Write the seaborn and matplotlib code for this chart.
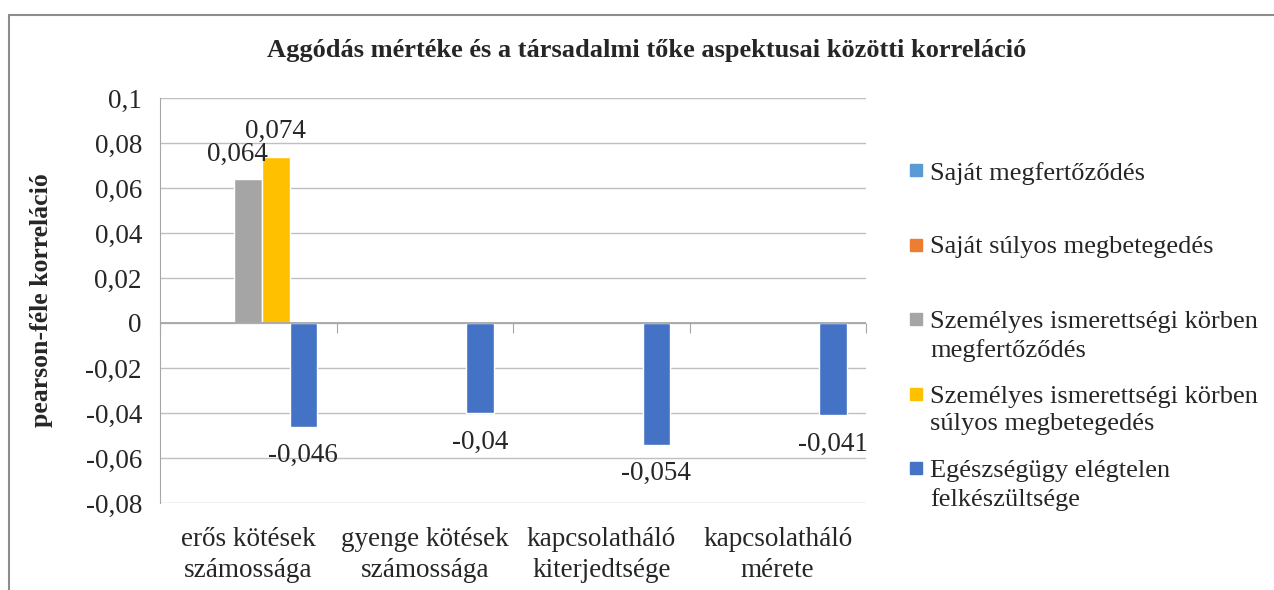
import numpy as np
import pandas as pd
import matplotlib
matplotlib.use("Agg")
import matplotlib.pyplot as plt
import seaborn as sns
from matplotlib.patches import Rectangle
from matplotlib.lines import Line2D
from matplotlib.ticker import FuncFormatter

nan = np.nan

# data
categories = ["erős kötések\nszámossága", "gyenge kötések\nszámossága",
              "kapcsolatháló\nkiterjedtsége", "kapcsolatháló\nmérete"]
series_names = ["Saját megfertőződés",
                "Saját súlyos megbetegedés",
                "Személyes ismerettségi körben\nmegfertőződés",
                "Személyes ismerettségi körben\nsúlyos megbetegedés",
                "Egészségügy elégtelen\nfelkészültsége"]
sajat_fert = [nan, nan, nan, nan]
sajat_suly = [nan, nan, nan, nan]
szem_fert = [0.064, nan, nan, nan]
szem_suly = [0.074, nan, nan, nan]
egeszsegugy = [-0.046, -0.04, -0.054, -0.041]
colors = ["#5B9BD5", "#ED7D31", "#A5A5A5", "#FFC000", "#4472C4"]
y_ticks = [-0.08, -0.06, -0.04, -0.02, 0, 0.02, 0.04, 0.06, 0.08, 0.1]

values = [sajat_fert, sajat_suly, szem_fert, szem_suly, egeszsegugy]
rows = []
for name, vals in zip(series_names, values):
    for cat, v in zip(categories, vals):
        rows.append({"kategoria": cat, "sorozat": name, "ertek": v})
df = pd.DataFrame(rows).dropna()

W, H = 1274, 590
FS = 19.5
sns.set_style("white")
plt.rcParams["font.family"] = ["Liberation Serif", "DejaVu Serif"]

fig = plt.figure(figsize=(W / 100, H / 100), dpi=100)
ax = fig.add_axes([160 / W, 1 - 503 / H, 706 / W, 405 / H])

sns.barplot(data=df, x="kategoria", y="ertek", hue="sorozat",
            order=categories, hue_order=series_names, palette=colors,
            width=0.78, errorbar=None, legend=False, saturation=1, ax=ax)

ax.set_ylim(-0.08, 0.1)
ax.set_xlim(-0.5, len(categories) - 0.5)
ax.set_yticks(y_ticks)
ax.yaxis.set_major_formatter(FuncFormatter(
    lambda v, p: f"{round(v, 3):g}".replace(".", ",")))
ax.grid(axis="y", color="#BFBFBF", lw=1)
ax.set_axisbelow(True)
ax.axhline(0, color="#A6A6A6", lw=1.3, zorder=1)
for s in ["top", "right", "bottom"]:
    ax.spines[s].set_visible(False)
ax.spines["left"].set_color("#A6A6A6")
ax.tick_params(axis="y", length=6, color="#BFBFBF", labelsize=FS, pad=7)
ax.tick_params(axis="x", length=0, labelsize=FS, pad=17)
for t in ax.get_xticklabels():
    t.set_linespacing(1.32)
ax.set_xlabel("")
ax.set_ylabel("pearson-féle korreláció", fontsize=18.5, fontweight="bold")
ax.yaxis.set_label_coords(-0.152, 0.5)

# category separator ticks on the zero line
zero_ax = ax.secondary_xaxis(0.08 / 0.18)
zero_ax.set_xticks(np.arange(len(categories) + 1) - 0.5)
zero_ax.set_xticklabels([])
zero_ax.tick_params(length=7, color="#A6A6A6", direction="out")
zero_ax.spines["bottom"].set_visible(False)

# data labels
for cont in ax.containers:
    labels = []
    for bar in cont:
        h = bar.get_height()
        labels.append("" if np.isnan(h) else f"{h:g}".replace(".", ","))
    texts = ax.bar_label(cont, labels=labels, padding=9, fontsize=FS)
    for t, bar in zip(texts, cont):
        if t.get_text() == "0,064":
            t.set_position((-8, 9))
        elif bar.get_height() < 0:
            t.set_position((0, -12))

fig.suptitle("Aggódás mértéke és a társadalmi tőke aspektusai közötti korreláció",
             x=647 / W, y=1 - 50 / H, va="center", fontsize=19, fontweight="bold")

# legend
for i, (name, col) in enumerate(zip(series_names, colors)):
    yc = 170 + 74.5 * i
    fig.add_artist(Rectangle((910 / W, 1 - (yc + 6) / H), 12 / W, 12 / H,
                             transform=fig.transFigure, color=col))
    fig.text(930 / W, 1 - (yc - 8) / H, name, fontsize=19, va="top",
             linespacing=1.32)

# outer frame (only top and left visible)
fig.add_artist(Line2D([9 / W, 1], [1 - 15 / H, 1 - 15 / H], color="#8C8C8C", lw=1.5))
fig.add_artist(Line2D([9 / W, 9 / W], [1 - 15 / H, 0], color="#8C8C8C", lw=1.5))

fig.savefig("out.png", dpi=100)
